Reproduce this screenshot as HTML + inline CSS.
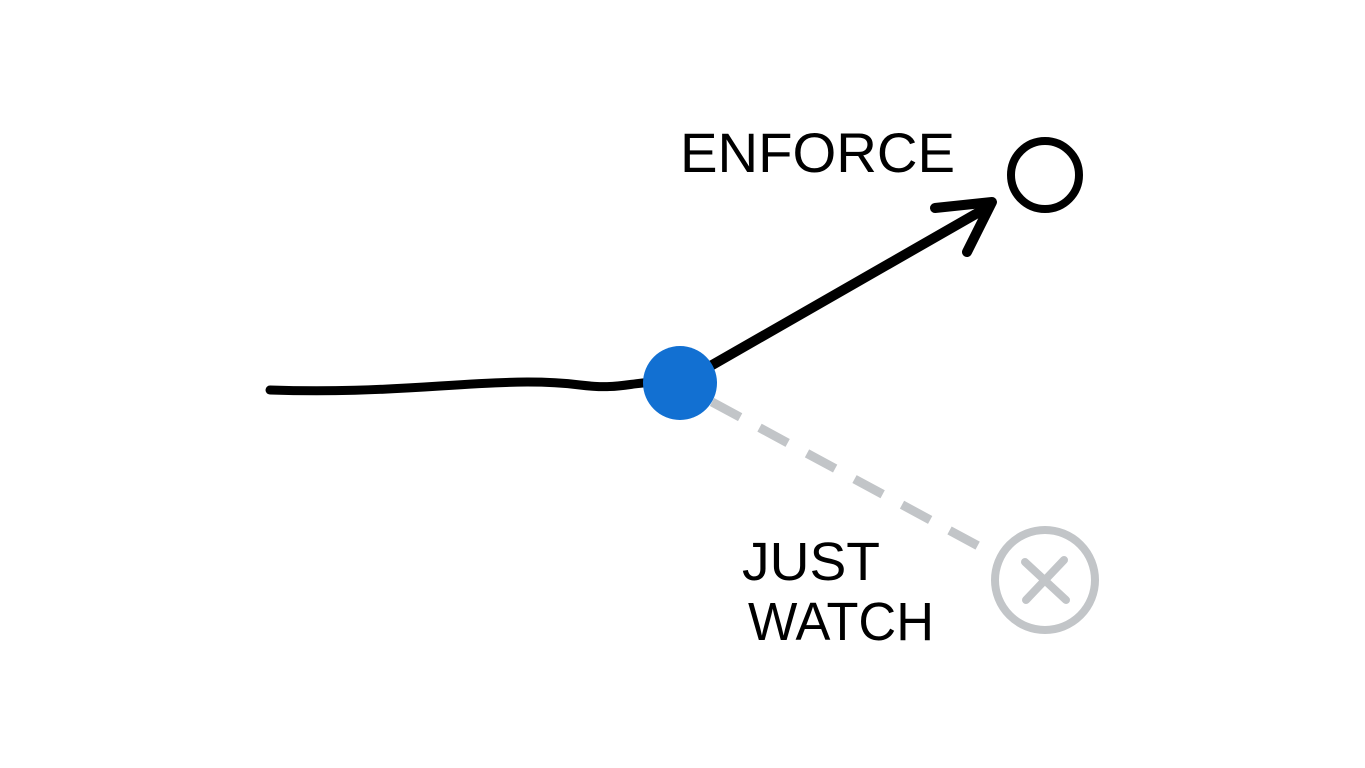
<!DOCTYPE html>
<html><head><meta charset="utf-8"><style>
html,body{margin:0;padding:0;background:#fff;}
svg{display:block;}
</style></head><body>
<svg width="1365" height="768" viewBox="0 0 1365 768" xmlns="http://www.w3.org/2000/svg">
<rect width="1365" height="768" fill="#fff"/>
<path d="M270 390 C 330 392, 380 390, 440 386 S 540 380, 580 385 S 630 382, 660 382" fill="none" stroke="#000" stroke-width="9" stroke-linecap="round"/>
<line x1="712" y1="402" x2="995" y2="555" stroke="#c2c5c8" stroke-width="9" stroke-dasharray="32 22" stroke-linecap="butt"/>
<circle cx="1045" cy="580" r="50" fill="none" stroke="#c2c5c8" stroke-width="8"/>
<path d="M1025 562 L1066 600 M1064 560 L1026 600" stroke="#c2c5c8" stroke-width="8" stroke-linecap="round"/>
<line x1="700" y1="372" x2="988" y2="207" stroke="#000" stroke-width="10" stroke-linecap="round"/>
<path d="M935 208 L992 202 L967 252" fill="none" stroke="#000" stroke-width="10" stroke-linecap="round" stroke-linejoin="round"/>
<circle cx="680" cy="383" r="37" fill="#1270d2"/>
<circle cx="1045" cy="175" r="34" fill="none" stroke="#000" stroke-width="8"/>
<text x="680" y="172" font-family="Liberation Sans, sans-serif" font-size="56" fill="#000" textLength="275" lengthAdjust="spacingAndGlyphs">ENFORCE</text>
<text x="742" y="580" font-family="Liberation Sans, sans-serif" font-size="54" fill="#000" textLength="138" lengthAdjust="spacingAndGlyphs">JUST</text>
<text x="748" y="640" font-family="Liberation Sans, sans-serif" font-size="54" fill="#000" textLength="186" lengthAdjust="spacingAndGlyphs">WATCH</text>
</svg>
</body></html>
